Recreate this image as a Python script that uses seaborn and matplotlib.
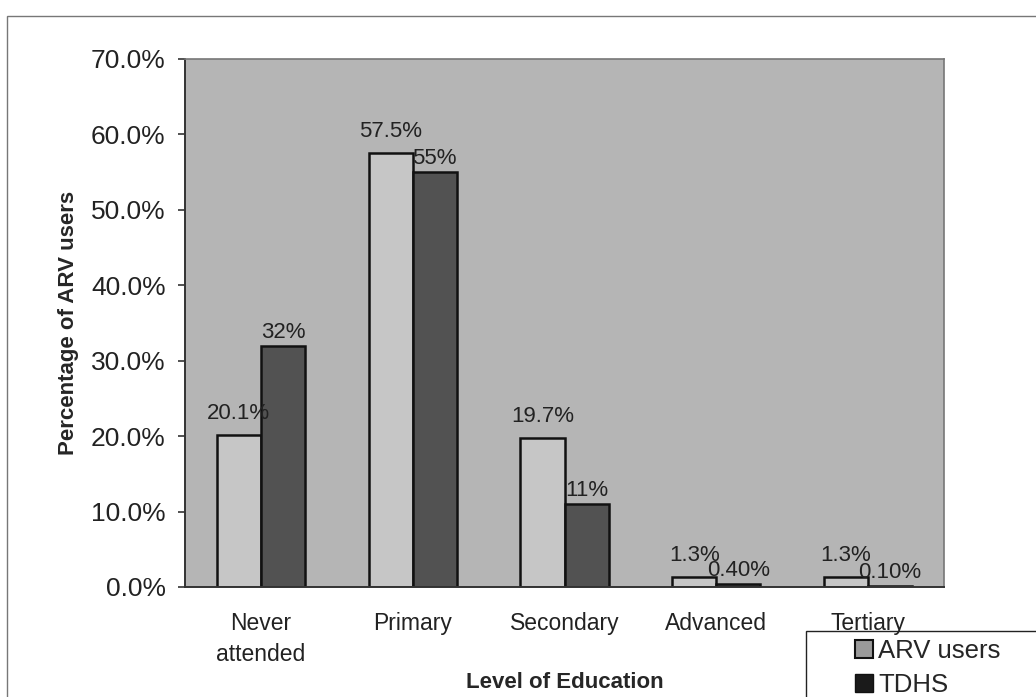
import numpy as np
import pandas as pd
import matplotlib
matplotlib.use("Agg")
import matplotlib.pyplot as plt
from matplotlib.patches import Rectangle
import seaborn as sns

# 교육 수준별 ARV 사용자 vs TDHS
levels = ["Never\nattended", "Primary", "Secondary", "Advanced", "Tertiary"]
arv = [20.1, 57.5, 19.7, 1.3, 1.3]
tdhs = [32, 55, 11, 0.4, 0.1]
arv_labels = ["20.1%", "57.5%", "19.7%", "1.3%", "1.3%"]
tdhs_labels = ["32%", "55%", "11%", "0.40%", "0.10%"]
series = ["ARV users", "TDHS"]

df = pd.DataFrame({
    "level": levels * 2,
    "value": arv + tdhs,
    "group": [series[0]] * len(levels) + [series[1]] * len(levels),
})

sns.set_style("white")
plt.rcParams["font.family"] = ["Liberation Sans", "DejaVu Sans"]

fig = plt.figure(figsize=(10.36, 6.97), dpi=100)
ax = fig.add_axes([185 / 1036, 1 - 587 / 697, 759 / 1036, 528 / 697])
ax.set_facecolor("#b5b5b5")

cols = ["#c6c6c6", "#525252"]
sns.barplot(data=df, x="level", y="value", hue="group", order=levels,
            hue_order=series, palette=cols,
            width=0.58, edgecolor="#111111", linewidth=1.8, ax=ax)

ax.bar_label(ax.containers[0], labels=arv_labels, padding=8, fontsize=16, color="#222222")
ax.bar_label(ax.containers[1], labels=tdhs_labels, padding=2, fontsize=16, color="#222222")

ax.set_ylim(0, 70)
ax.set_yticks(np.arange(0, 71, 10))
ax.set_yticklabels([f"{v:.1f}%" for v in np.arange(0, 71, 10)], fontsize=19, color="#222222")
ax.set_xlim(-0.5, len(levels) - 0.5)
ax.set_xticks(range(len(levels)))
ax.set_xticklabels(levels, fontsize=16.5, color="#222222", linespacing=1.45)
ax.set_xticks(np.arange(-0.5, len(levels)), minor=True)
ax.tick_params(axis="x", which="major", length=0, pad=18)
ax.tick_params(axis="x", which="minor", length=5, color="#333333", width=1.2)
ax.tick_params(axis="y", length=5, color="#333333", width=1.2, left=True, pad=9)

ax.set_ylabel("Percentage of ARV users", fontsize=16, fontweight="bold")
ax.yaxis.set_label_coords(-0.14, 0.5)
ax.set_xlabel("Level of Education", fontsize=16, fontweight="bold", va="center")
ax.xaxis.set_label_coords(0.5, -(682 - 587) / 528)

for side in ["left", "bottom"]:
    ax.spines[side].set_color("#333333")
    ax.spines[side].set_linewidth(1.4)
for side in ["top", "right"]:
    ax.spines[side].set_color("#777777")
    ax.spines[side].set_linewidth(1.2)

ax.legend_.remove()
handles = [Rectangle((0, 0), 1, 1, facecolor="#9a9a9a", edgecolor="#111111", linewidth=1.5),
           Rectangle((0, 0), 1, 1, facecolor="#1a1a1a", edgecolor="#111111")]
leg = fig.legend(handles, series, loc="upper left", bbox_to_anchor=(855 / 1036, 1 - 639 / 697),
                 fontsize=18.5, frameon=False, borderpad=0,
                 handlelength=0.7, handleheight=0.7, handletextpad=0.2,
                 labelspacing=0.4, borderaxespad=0)
# 범례 박스 (그림 밖으로 이어짐)
fig.patches.append(Rectangle((806 / 1036, -0.05), 0.3, 0.05 + 1 - 631 / 697,
                             transform=fig.transFigure, fill=False,
                             edgecolor="#222222", linewidth=1.0))

# 바깥 테두리
fig.patches.append(Rectangle((7 / 1036, -0.05), 1.1, 1.05 - 16 / 697, transform=fig.transFigure,
                             fill=False, edgecolor="#777777", linewidth=1.0))

fig.savefig("out.png", dpi=100)
